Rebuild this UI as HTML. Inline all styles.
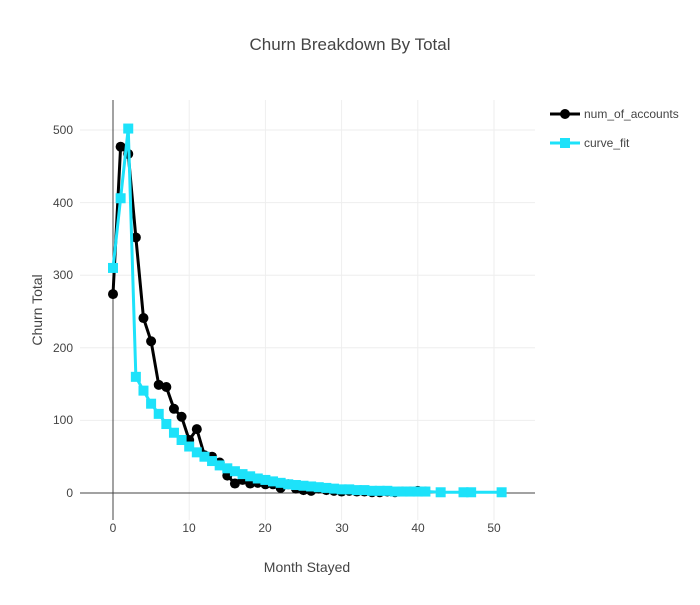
<!DOCTYPE html>
<html><head><style>body{margin:0;background:#fff}svg{font-family:"Liberation Sans",sans-serif}</style></head><body>
<svg id="s" width="700" height="600" xmlns="http://www.w3.org/2000/svg">
<rect width="700" height="600" fill="#fff"/>
<text x="350" y="50" text-anchor="middle" font-size="17" fill="#444">Churn Breakdown By Total</text>
<g stroke="#eee" stroke-width="1">
<line x1="80" x2="535" y1="130" y2="130"/><line x1="80" x2="535" y1="202.6" y2="202.6"/><line x1="80" x2="535" y1="275.2" y2="275.2"/><line x1="80" x2="535" y1="347.8" y2="347.8"/><line x1="80" x2="535" y1="420.4" y2="420.4"/>
<line y1="100" y2="520" x1="189.2" x2="189.2"/><line y1="100" y2="520" x1="265.4" x2="265.4"/><line y1="100" y2="520" x1="341.6" x2="341.6"/><line y1="100" y2="520" x1="417.8" x2="417.8"/><line y1="100" y2="520" x1="494" x2="494"/>
</g>
<line x1="113" x2="113" y1="100" y2="520" stroke="#444"/>
<line x1="80" x2="535" y1="493" y2="493" stroke="#444"/>
<g font-size="12" fill="#444" text-anchor="end">
<text x="73" y="134">500</text><text x="73" y="207">400</text><text x="73" y="279">300</text><text x="73" y="352">200</text><text x="73" y="424">100</text><text x="73" y="497">0</text>
</g>
<g font-size="12" fill="#444" text-anchor="middle">
<text x="113" y="532">0</text><text x="189" y="532">10</text><text x="265" y="532">20</text><text x="342" y="532">30</text><text x="418" y="532">40</text><text x="494" y="532">50</text>
</g>
<text x="307" y="572" text-anchor="middle" font-size="14" fill="#444">Month Stayed</text>
<text transform="translate(42,310) rotate(-90)" text-anchor="middle" font-size="14" fill="#444">Churn Total</text>
<g id="d"></g>
<line x1="550" x2="580" y1="114" y2="114" stroke="#000" stroke-width="3"/><circle cx="565" cy="114" r="5" fill="#000"/>
<text x="584" y="118" font-size="12" fill="#444">num_of_accounts</text>
<line x1="550" x2="580" y1="143" y2="143" stroke="#1de2fa" stroke-width="3"/><rect x="560" y="138" width="10" height="10" fill="#1de2fa"/>
<text x="584" y="147" font-size="12" fill="#444">curve_fit</text>
</svg>
<script>
var X=m=>113+7.62*m,Y=v=>493-0.726*v;
var b=[274,477,467,352,241,209,149,146,116,105,73,88,52,50,42,24,13,18,13,14,12,12,7,12,6,4,3,6,4,3,2,3,2,2,1,1,2,1,2,2,3,2];
var c=[310,406,502,160,141,123,109,95,83,73,64,56,50,44,38,34,30,26,23,20,18,16,14,12,11,10,9,8,7,6,5,5,4,4,3,3,3,2,2,2,2,2];
var cm=c.map((v,i)=>[i,v]);cm.push([43,1],[46,1],[47,1],[51,1]);
var g=document.getElementById('d'),h='';
h+='<polyline fill="none" stroke="#000" stroke-width="3" points="'+b.map((v,i)=>X(i)+','+Y(v)).join(' ')+'"/>';
b.forEach((v,i)=>h+='<circle cx="'+X(i)+'" cy="'+Y(v)+'" r="5" fill="#000"/>');
h+='<polyline fill="none" stroke="#1de2fa" stroke-width="3" points="'+cm.map(p=>X(p[0])+','+Y(p[1])).join(' ')+'"/>';
cm.forEach(p=>h+='<rect x="'+(X(p[0])-5)+'" y="'+(Y(p[1])-5)+'" width="10" height="10" fill="#1de2fa"/>');
g.innerHTML=h;
</script>
</body></html>
